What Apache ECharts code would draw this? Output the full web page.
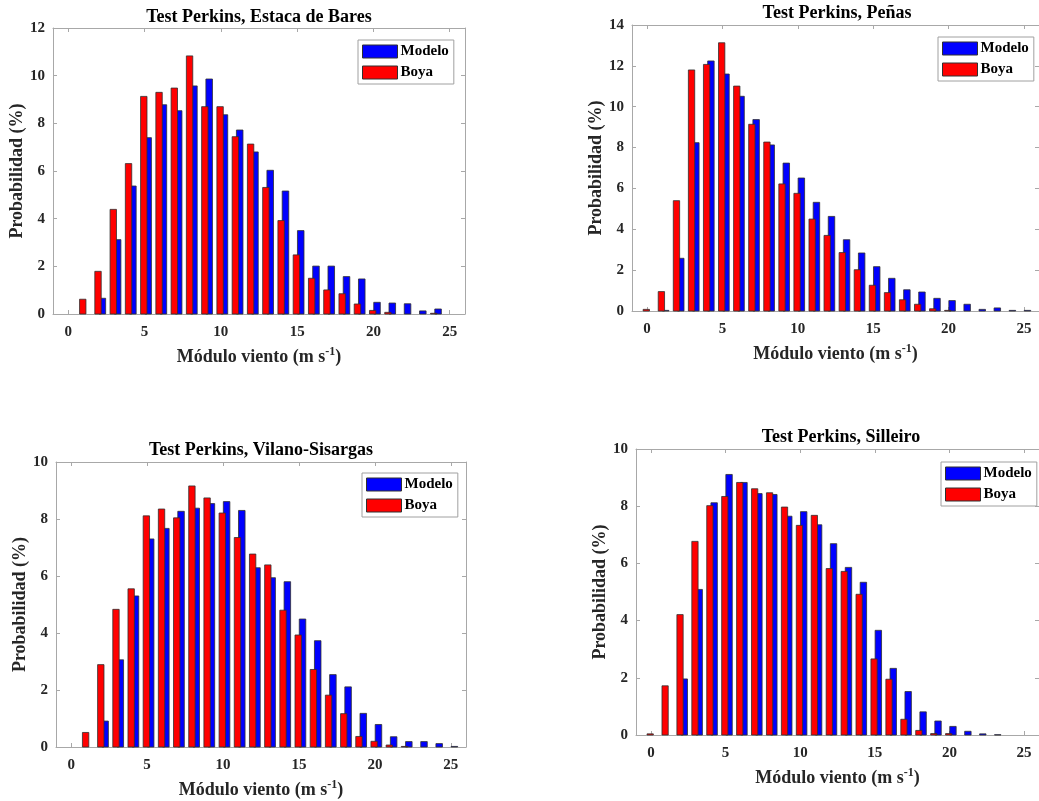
<!DOCTYPE html>
<html>
<head>
<meta charset="utf-8">
<script src="https://cdn.jsdelivr.net/npm/echarts@6/dist/echarts.min.js"></script>
<style>
html,body{margin:0;padding:0;background:#ffffff;}
#c{width:1039px;height:801px;}
</style>
</head>
<body>
<div id="c"></div>
<script>
// ---------- DATA ----------
const windSpeed = [0,1,2,3,4,5,6,7,8,9,10,11,12,13,14,15,16,17,18,19,20,21,22,23,24,25];
const xTickValues = [0,5,10,15,20,25];
const seriesNames = ['Modelo','Boya'];
const panelTitles = ['Test Perkins, Estaca de Bares','Test Perkins, Peñas','Test Perkins, Vilano-Sisargas','Test Perkins, Silleiro'];
const yMaxValues = [12,14,10,10];

const modeloEstaca = [0,0,0.66,3.12,5.37,7.40,8.78,8.53,9.57,9.86,8.36,7.72,6.80,6.03,5.16,3.50,2.01,2.01,1.57,1.47,0.49,0.46,0.43,0.13,0.21,0];
const boyaEstaca   = [0,0.62,1.79,4.39,6.31,9.13,9.30,9.48,10.83,8.70,8.70,7.44,7.13,5.31,3.92,2.48,1.50,1.01,0.85,0.42,0.15,0.07,0,0,0.03,0];

const modeloPenas = [0,0.03,2.58,8.24,12.24,11.60,10.51,9.37,8.13,7.24,6.51,5.32,4.63,3.49,2.84,2.17,1.60,1.04,0.93,0.62,0.51,0.33,0.08,0.15,0.03,0.03];
const boyaPenas   = [0.08,0.95,5.40,11.80,12.07,13.13,11.01,9.14,8.27,6.22,5.76,4.50,3.70,2.86,2.02,1.26,0.90,0.55,0.33,0.11,0.03,0,0,0,0,0];

const modeloVilano = [0,0,0.91,3.06,5.30,7.30,7.67,8.27,8.38,8.54,8.61,8.30,6.29,5.94,5.80,4.49,3.73,2.54,2.11,1.18,0.79,0.36,0.19,0.19,0.12,0.02];
const boyaVilano   = [0,0.51,2.89,4.83,5.55,8.11,8.35,8.04,9.16,8.74,8.21,7.35,6.77,6.39,4.80,3.93,2.72,1.82,1.17,0.37,0.20,0.07,0.02,0,0,0];

const modeloSilleiro = [0,0,1.96,5.09,8.12,9.11,8.83,8.44,8.41,7.65,7.81,7.35,6.69,5.86,5.34,3.66,2.33,1.52,0.81,0.49,0.30,0.13,0.04,0.01,0,0];
const boyaSilleiro   = [0.04,1.72,4.21,6.77,8.02,8.34,8.83,8.61,8.47,7.97,7.33,7.68,5.82,5.72,4.92,2.66,1.95,0.55,0.16,0.05,0.05,0,0,0,0,0];

const modeloAll = [modeloEstaca, modeloPenas, modeloVilano, modeloSilleiro];
const boyaAll = [boyaEstaca, boyaPenas, boyaVilano, boyaSilleiro];

// ---------- LAYOUT / STYLE ----------
const FONT = '"Liberation Serif","Times New Roman",serif';
const FRAME = '#a8a8a8';
const TXT = '#262626';
const grids = [
  {left:53, top:28, width:412, height:286},
  {left:632, top:25, width:408, height:286},
  {left:56, top:462, width:410, height:285},
  {left:636, top:449, width:409, height:286}
];
const titlePos = [[259,17],[837,13],[261,450],[841,437]];
const legendPos = [[358,40],[938,37],[362,473],[941,462]];
const colors = {Modelo:'#0000ff', Boya:'#ff0000'};
const barGeom = {Modelo:{offset:0.235, half:0.215}, Boya:{offset:-0.05, half:0.21}};

function barRenderer(name) {
  const g = barGeom[name];
  return function(params, api) {
    const x = api.value(0), y = api.value(1);
    if (!(y > 0)) return null;
    const tl = api.coord([x + g.offset - g.half, y]);
    const br = api.coord([x + g.offset + g.half, 0]);
    return {
      type:'rect',
      shape:{x:tl[0], y:tl[1], width:br[0]-tl[0], height:br[1]-tl[1]},
      style:{fill:colors[name], stroke:'#303030', lineWidth:0.8}
    };
  };
}

const option = {
  animation:false,
  backgroundColor:'#ffffff',
  grid:[], xAxis:[], yAxis:[], series:[], legend:[], graphic:[]
};

const lineStyle = {color:FRAME, width:1};
for (let i = 0; i < 4; i++) {
  option.grid.push(Object.assign({show:false}, grids[i]));
  // bottom x
  option.xAxis.push({
    type:'value', gridIndex:i, min:-1, max:26, position:'bottom',
    axisLine:{show:true, onZero:false, lineStyle},
    axisTick:{show:true, inside:true, length:4, customValues:xTickValues, lineStyle},
    axisLabel:{show:true, customValues:xTickValues, margin:11, fontFamily:FONT, fontWeight:'bold', fontSize:15, color:TXT},
    splitLine:{show:false},
    name:'{n|Módulo viento (m s}{s|-1}{n|)}',
    nameLocation:'middle', nameGap:32,
    nameTextStyle:{rich:{
      n:{fontFamily:FONT, fontWeight:'bold', fontSize:18, color:TXT, lineHeight:22},
      s:{fontFamily:FONT, fontWeight:'bold', fontSize:12, color:TXT, lineHeight:16, verticalAlign:'top'}
    }}
  });
  // top x mirror
  option.xAxis.push({
    type:'value', gridIndex:i, min:-1, max:26, position:'top',
    axisLine:{show:true, onZero:false, lineStyle},
    axisTick:{show:true, inside:true, length:4, customValues:xTickValues, lineStyle},
    axisLabel:{show:false}, splitLine:{show:false}
  });
  // left y
  option.yAxis.push({
    type:'value', gridIndex:i, min:0, max:yMaxValues[i], interval:2, position:'left',
    axisLine:{show:true, onZero:false, lineStyle},
    axisTick:{show:true, inside:true, length:4, lineStyle},
    axisLabel:{show:true, margin:8, fontFamily:FONT, fontWeight:'bold', fontSize:15, color:TXT},
    splitLine:{show:false},
    name:'Probabilidad (%)', nameLocation:'middle', nameGap:25,
    nameTextStyle:{fontFamily:FONT, fontWeight:'bold', fontSize:18, color:TXT}
  });
  // right y mirror
  option.yAxis.push({
    type:'value', gridIndex:i, min:0, max:yMaxValues[i], interval:2, position:'right',
    axisLine:{show:true, onZero:false, lineStyle},
    axisTick:{show:true, inside:true, length:4, lineStyle},
    axisLabel:{show:false}, splitLine:{show:false}
  });

  const sets = {Modelo: modeloAll[i], Boya: boyaAll[i]};
  seriesNames.forEach(function(name){
    option.series.push({
      type:'custom', name:name,
      xAxisIndex:2*i, yAxisIndex:2*i,
      itemStyle:{color:colors[name], borderColor:'#303030', borderWidth:1},
      encode:{x:0, y:1},
      data: windSpeed.map(function(w, k){ return [w, sets[name][k]]; }),
      renderItem: barRenderer(name),
      z: name === 'Boya' ? 3 : 2
    });
  });

  option.legend.push({
    left:legendPos[i][0], top:legendPos[i][1], orient:'vertical',
    itemWidth:35, itemHeight:13, itemGap:6, padding:[4,5,4,4],
    borderColor:'#a0a0a0', borderWidth:1, backgroundColor:'#ffffff',
    selectedMode:false,
    data:[{name:'Modelo', icon:'rect'},{name:'Boya', icon:'rect'}],
    itemStyle:{borderColor:'#303030', borderWidth:1},
    textStyle:{fontFamily:FONT, fontWeight:'bold', fontSize:15, color:'#000', padding:[0,0,0,-2]}
  });

  option.graphic.push({
    type:'text', x:titlePos[i][0], y:titlePos[i][1],
    style:{text:panelTitles[i], fontFamily:FONT, fontWeight:'bold', fontSize:18, fill:'#000', align:'center', verticalAlign:'middle'}
  });
}

const chart = echarts.init(document.getElementById('c'), null, {renderer:'canvas'});
chart.setOption(option);
</script>
</body>
</html>
